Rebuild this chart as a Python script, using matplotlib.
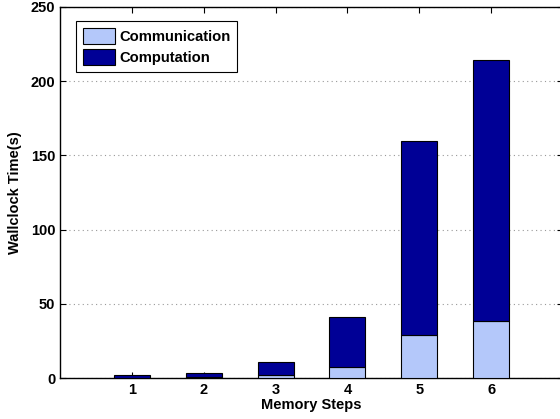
import numpy as np
import matplotlib.pyplot as plt
from matplotlib import rc

rc('font', **{'family': 'sans-serif', 'sans-serif': ['Liberation Sans', 'DejaVu Sans'],
              'size': 10.5, 'weight': 'bold'})

steps = [1, 2, 3, 4, 5, 6]
communication = [0.3, 0.5, 2.2, 7.2, 28.8, 38.5]
total = [1.8, 3.4, 10.8, 41.0, 159.5, 214.0]
computation = [t - c for t, c in zip(total, communication)]

colors = {
    'comm': '#B4C8FA',
    'comp': '#000096',
}

fig = plt.figure(figsize=(5.6, 4.19), dpi=100)
ax = fig.add_axes([60 / 560, 1 - 378 / 419, 503 / 560, 371 / 419])

x = np.array(steps)
ax.bar(x, communication, width=0.5, color=colors['comm'], edgecolor='black', linewidth=0.8,
       label='Communication', zorder=3)
ax.bar(x, computation, width=0.5, bottom=communication, color=colors['comp'], edgecolor='black',
       linewidth=0.8, label='Computation', zorder=3)

ax.set_xlim(0, 7)
ax.set_ylim(0, 250)
ax.set_xticks(steps)
ax.set_yticks(np.arange(0, 251, 50))
ax.tick_params(direction='in', top=True, right=True, length=4, labelsize=10.5)
ax.yaxis.grid(True, linestyle=(0, (1, 3)), color='#999999', linewidth=0.8, zorder=0)

for side in ax.spines.values():
    side.set_linewidth(1.0)

ax.set_xlabel('Memory Steps', fontweight='bold', labelpad=1)
ax.set_ylabel('Wallclock Time(s)', fontweight='bold', labelpad=6)

leg = ax.legend(loc='upper left', bbox_to_anchor=(0.032, 0.962), fancybox=False, framealpha=1,
                edgecolor='black', handlelength=2.2, handleheight=1.3, handletextpad=0.3,
                borderpad=0.45, labelspacing=0.35, borderaxespad=0, prop={'size': 10.6})
leg.get_frame().set_linewidth(0.8)

fig.savefig('out.png', dpi=100)
